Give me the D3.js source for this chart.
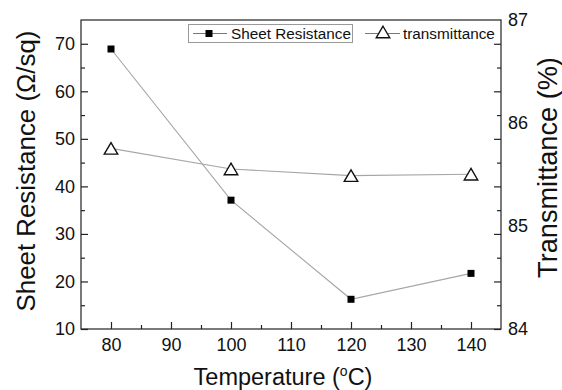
<!DOCTYPE html>
<html>
<head>
<meta charset="utf-8">
<script src="https://cdn.jsdelivr.net/npm/d3@7/dist/d3.min.js"></script>
<style>
  html, body { margin: 0; padding: 0; background: #fff; }
  svg { display: block; }
  text { font-family: "Liberation Sans", Arial, sans-serif; fill: #111; }
</style>
</head>
<body>
<svg id="chart" width="562" height="390"></svg>
<script>
// ---- data ----
const temperatures = [80, 100, 120, 140];
const sheetResistance = [68.9, 37.1, 16.25, 21.7];
const transmittance = [85.754, 85.554, 85.489, 85.503];
const xTicks = [80, 90, 100, 110, 120, 130, 140];
const yLeftTicks = [10, 20, 30, 40, 50, 60, 70];
const yRightTicks = [84, 85, 86, 87];
const seriesNames = ["Sheet Resistance", "transmittance"];

// ---- layout ----
const L = 81, R = 501, T = 20, B = 329;
const svg = d3.select("#chart");

const x = d3.scaleLinear().domain([75, 145]).range([L, R]);
const yL = d3.scaleLinear().domain([10, 75]).range([B, T]);
const yR = d3.scaleLinear().domain([84, 87]).range([B, T]);

const lineGray = "#a6a6a6";
const ff = "Liberation Sans, Arial, sans-serif";

// frame
svg.append("rect").attr("x", L).attr("y", T).attr("width", R - L).attr("height", B - T)
  .attr("fill", "none").attr("stroke", "#222").attr("stroke-width", 1.2);

function styleTicks(g) {
  g.select(".domain").remove();
  g.selectAll(".tick line").attr("stroke", "#222").attr("stroke-width", 1.2);
  g.selectAll(".tick text").attr("font-size", 18).attr("font-family", ff).attr("fill", "#111");
}

// bottom axis (inward ticks)
const xMinor = d3.range(80, 145, 5).filter(v => v % 10 !== 0);
svg.append("g").attr("transform", `translate(0,${B})`)
  .call(d3.axisBottom(x).tickValues(xTicks).tickSize(-7).tickPadding(9.5).tickFormat(d3.format("d")))
  .call(styleTicks);
svg.append("g").attr("transform", `translate(0,${B})`)
  .call(d3.axisBottom(x).tickValues(xMinor).tickSize(-4).tickFormat(""))
  .call(styleTicks);

// left axis
const yMinor = d3.range(15, 75, 10);
svg.append("g").attr("transform", `translate(${L},0)`)
  .call(d3.axisLeft(yL).tickValues(yLeftTicks).tickSize(-7).tickPadding(6).tickFormat(d3.format("d")))
  .call(styleTicks);
svg.append("g").attr("transform", `translate(${L},0)`)
  .call(d3.axisLeft(yL).tickValues(yMinor).tickSize(-4).tickFormat(""))
  .call(styleTicks);

// right side: mirrored ticks of left axis, labels of right axis
svg.append("g").attr("transform", `translate(${R},0)`)
  .call(d3.axisRight(yL).tickValues(yLeftTicks).tickSize(-7).tickFormat(""))
  .call(styleTicks);
svg.append("g").attr("transform", `translate(${R},0)`)
  .call(d3.axisRight(yL).tickValues(yMinor).tickSize(-4).tickFormat(""))
  .call(styleTicks);
svg.append("g").attr("transform", `translate(${R},0)`)
  .call(d3.axisRight(yR).tickValues(yRightTicks).tickSize(0).tickPadding(7).tickFormat(d3.format("d")))
  .call(styleTicks);

function fitText(sel, target) {
  sel.attr("font-size", 24);
  const w = sel.node().getComputedTextLength();
  sel.attr("font-size", 24 * target / w);
}

// axis titles
const xt = svg.append("text").attr("x", 283).attr("y", 384.5)
  .attr("text-anchor", "middle").attr("font-size", 23.5);
xt.append("tspan").text("Temperature (");
xt.append("tspan").text("o").attr("font-size", 14).attr("dy", -9);
xt.append("tspan").text("C)").attr("dy", 9);

const yt = svg.append("text").attr("transform", `translate(35,171) rotate(-90)`)
  .attr("text-anchor", "middle")
  .text("Sheet Resistance (Ω/sq)");
fitText(yt, 281);

const rt = svg.append("text").attr("transform", `translate(557,167.5) rotate(-90)`)
  .attr("text-anchor", "middle")
  .text("Transmittance (%)");
fitText(rt, 221);

// series lines
const dataSR = temperatures.map((t, i) => ({ t, v: sheetResistance[i] }));
const dataTR = temperatures.map((t, i) => ({ t, v: transmittance[i] }));

svg.append("path").datum(dataSR)
  .attr("d", d3.line().x(d => x(d.t)).y(d => yL(d.v)))
  .attr("fill", "none").attr("stroke", lineGray).attr("stroke-width", 1.1);
svg.append("path").datum(dataTR)
  .attr("d", d3.line().x(d => x(d.t)).y(d => yR(d.v)))
  .attr("fill", "none").attr("stroke", lineGray).attr("stroke-width", 1.1);

// markers
const sq = 7;
svg.selectAll(".sq").data(dataSR).enter().append("rect")
  .attr("x", d => x(d.t) - sq / 2).attr("y", d => yL(d.v) - sq / 2)
  .attr("width", sq).attr("height", sq).attr("fill", "#000");

function triPath(cx, cy, w, h) {
  return `M${cx},${cy - h / 2}L${cx + w / 2},${cy + h / 2}L${cx - w / 2},${cy + h / 2}Z`;
}
svg.selectAll(".tri").data(dataTR).enter().append("path")
  .attr("d", d => triPath(x(d.t), yR(d.v), 13.5, 11.5))
  .attr("fill", "#fff").attr("stroke", "#111").attr("stroke-width", 1.4);

// legend
svg.append("rect").attr("x", 188.5).attr("y", 24.5).attr("width", 164).attr("height", 18)
  .attr("fill", "#fff").attr("stroke", "#999").attr("stroke-width", 1);
svg.append("line").attr("x1", 193).attr("x2", 227).attr("y1", 33.5).attr("y2", 33.5)
  .attr("stroke", "#777").attr("stroke-width", 1);
svg.append("rect").attr("x", 209 - 3.5).attr("y", 33.5 - 3.5).attr("width", 7).attr("height", 7).attr("fill", "#000");
svg.append("text").attr("x", 231).attr("y", 39).attr("font-size", 15.3).text(seriesNames[0]);

svg.append("line").attr("x1", 365).attr("x2", 400).attr("y1", 33.5).attr("y2", 33.5)
  .attr("stroke", "#777").attr("stroke-width", 1);
svg.append("path").attr("d", triPath(383, 32, 13.5, 11.5))
  .attr("fill", "#fff").attr("stroke", "#111").attr("stroke-width", 1.4);
svg.append("text").attr("x", 403).attr("y", 39).attr("font-size", 15.3).text(seriesNames[1]);
</script>
</body>
</html>
